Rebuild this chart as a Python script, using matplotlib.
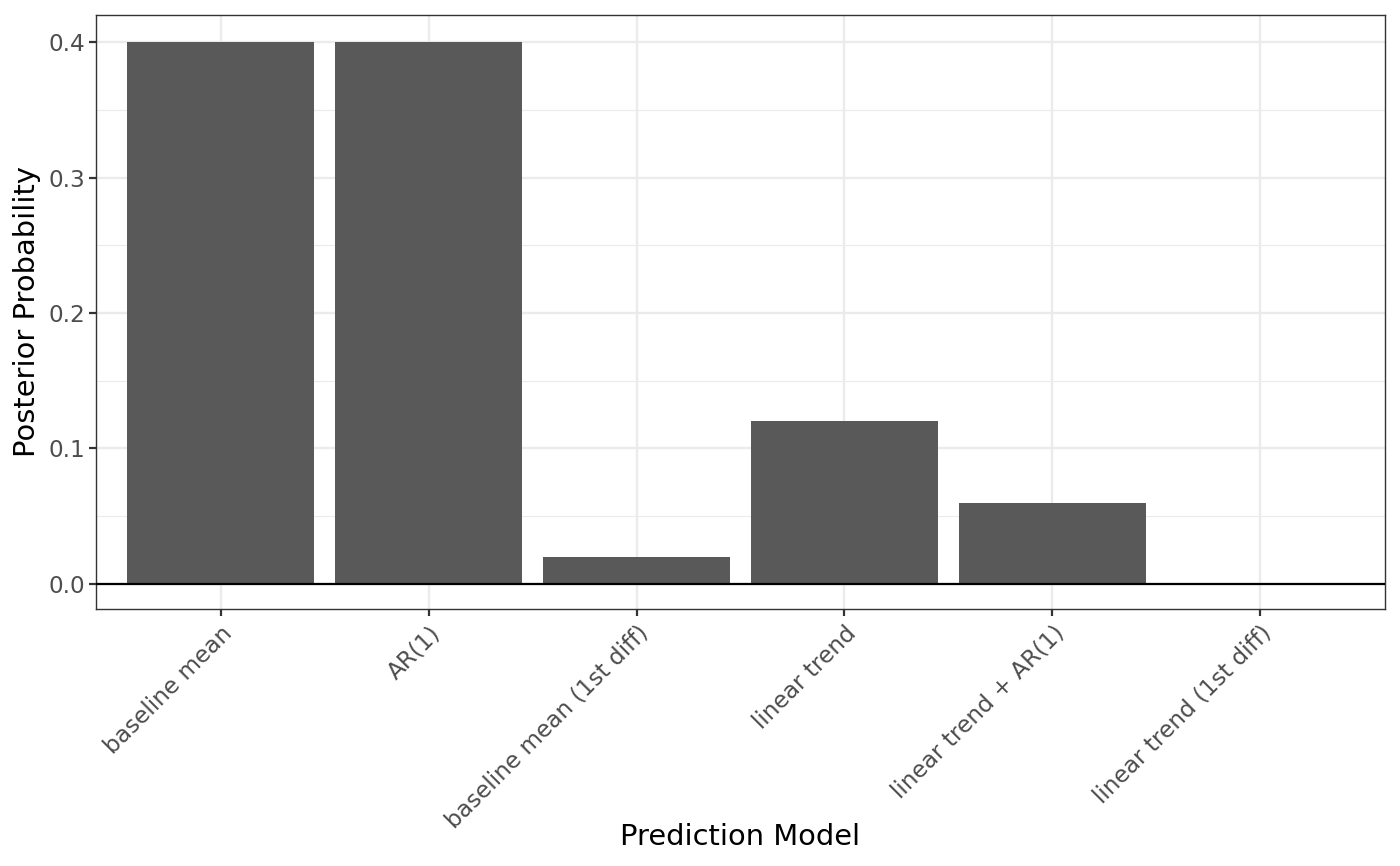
import matplotlib
matplotlib.use('Agg')
import matplotlib.pyplot as plt
from matplotlib.ticker import MultipleLocator

models = ['baseline mean', 'AR(1)', 'baseline mean (1st diff)',
          'linear trend', 'linear trend + AR(1)', 'linear trend (1st diff)']
probs = [0.40, 0.40, 0.02, 0.12, 0.06, 0.0]

plt.rcParams['font.family'] = 'DejaVu Sans'
fig = plt.figure(figsize=(14, 8.66), dpi=100)
ax = fig.add_axes([0.0686, 0.2968, 0.9207, 0.6859])

x = list(range(1, len(models) + 1))
ax.bar(x, probs, width=0.9, color='#595959', zorder=2)
ax.axhline(0, color='black', lw=1.6, zorder=3)

ax.set_xlim(0.4, len(models) + 0.6)
ax.set_ylim(-0.0185, 0.42)
ax.set_xticks(x)
ax.set_xticklabels(models, rotation=45, ha='right', va='top', rotation_mode='anchor')
ax.yaxis.set_major_locator(MultipleLocator(0.1))
ax.yaxis.set_minor_locator(MultipleLocator(0.05))
ax.yaxis.set_major_formatter(plt.FormatStrFormatter('%.1f'))

ax.grid(which='major', color='#EBEBEB', lw=1.7, zorder=0)
ax.grid(which='minor', axis='y', color='#EBEBEB', lw=0.85, zorder=0)
ax.set_axisbelow(True)
ax.tick_params(which='minor', length=0)
ax.tick_params(which='major', length=5, width=1.6, color='#333333',
               labelsize=16.7, labelcolor='#4D4D4D', pad=3)
ax.tick_params(axis='x', pad=4)
for s in ax.spines.values():
    s.set_color('#333333')
    s.set_linewidth(1.0)

ax.set_xlabel('Prediction Model', fontsize=20.8, labelpad=-7)
ax.set_ylabel('Posterior Probability', fontsize=20.8, labelpad=5)

fig.savefig('out.png', dpi=100)
